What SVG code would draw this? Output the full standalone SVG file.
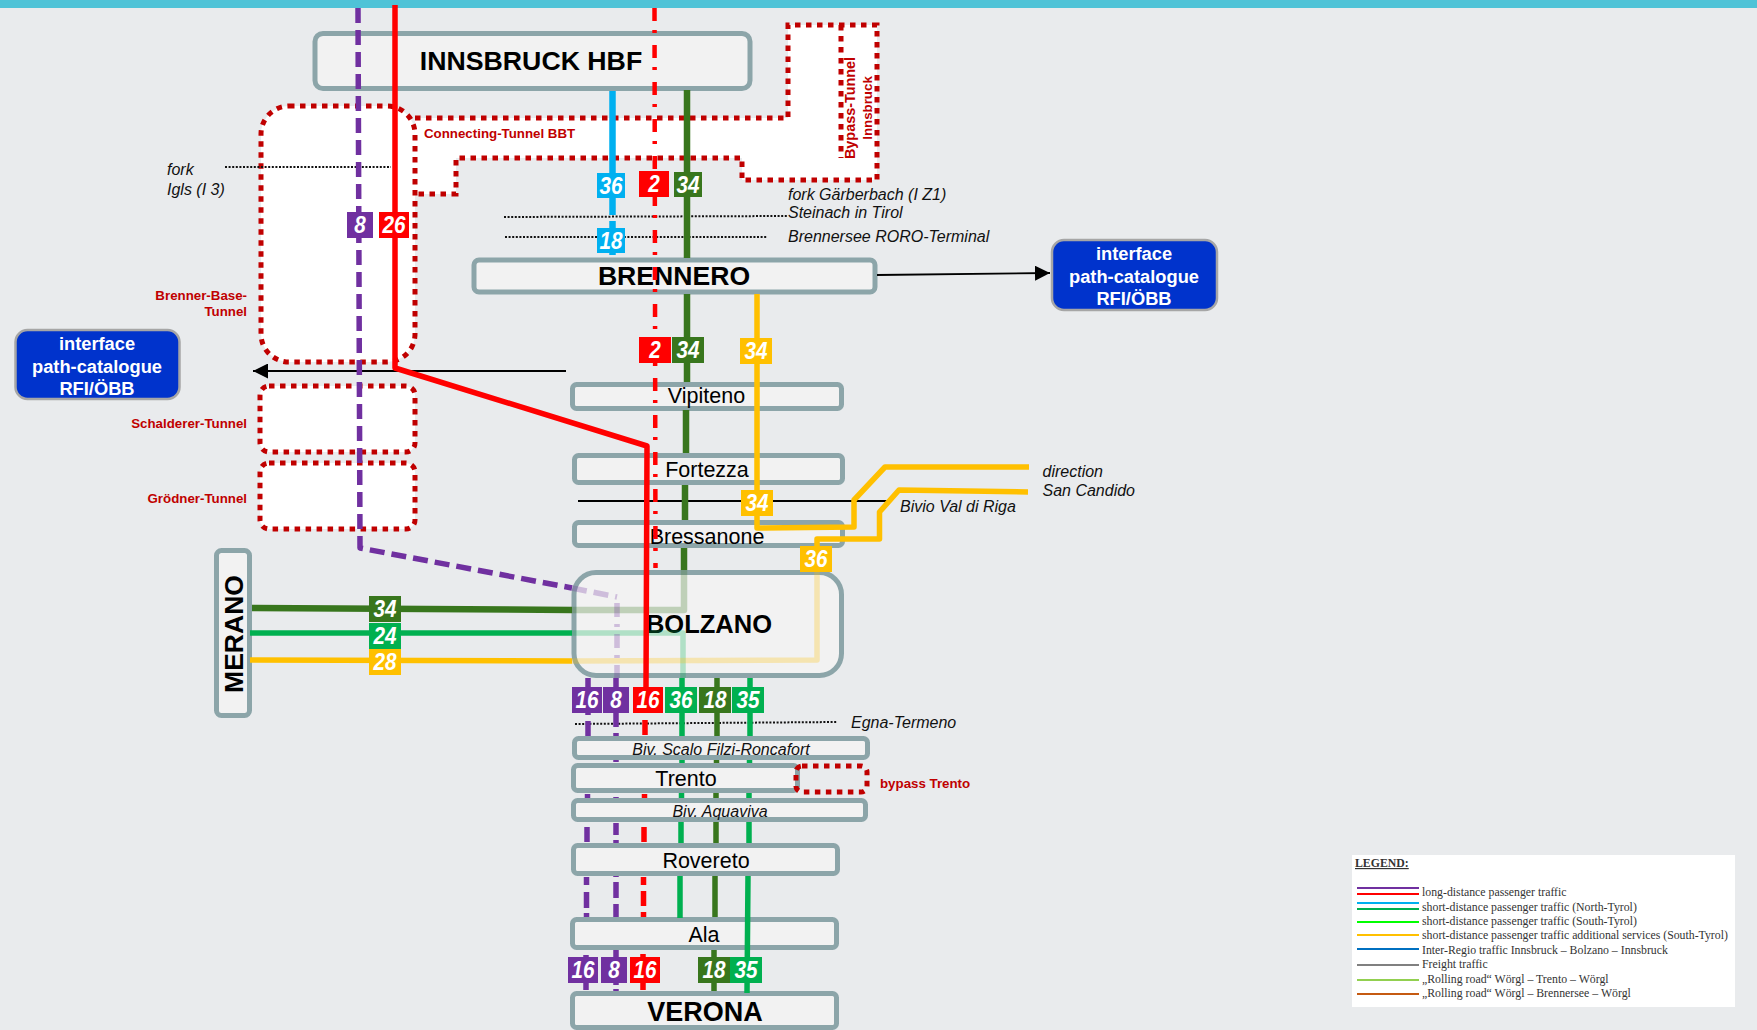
<svg xmlns="http://www.w3.org/2000/svg" width="1757" height="1030" viewBox="0 0 1757 1030">
<style>
text{font-family:"Liberation Sans",Arial,sans-serif}
.st{fill:#f2f2f2;stroke:#8ca5a9;stroke-width:5}
.big{font-weight:700;text-anchor:middle;fill:#000}
.mid{font-size:21.5px;text-anchor:middle;fill:#000}
.it{font-style:italic;font-size:16px;fill:#111}
.itm{font-style:italic;font-size:16px;fill:#111;text-anchor:middle}
.tun{fill:#fff;stroke:#c00000;stroke-width:5;stroke-dasharray:5.5 5.5}
.tl{font-weight:700;font-size:13.3px;fill:#c00000}
.tr{font-weight:700;font-size:13.3px;fill:#c00000;text-anchor:end}
.dot{fill:none;stroke:#111;stroke-width:2;stroke-dasharray:2 1.6}
.blk{fill:none;stroke:#000;stroke-width:1.8}
.l{fill:none;stroke-linejoin:round}
.pur{stroke:#7030a0;stroke-width:5.5}
.red{stroke:#f00;stroke-width:5.5}
.blu{stroke:#00b0f0;stroke-width:6.5}
.dkg{stroke:#38761d;stroke-width:6.5}
.grn{stroke:#00b050;stroke-width:5.5}
.yel{stroke:#ffc000;stroke-width:5.5}
.pale{stroke-opacity:.27}
.d1{stroke-dasharray:15 7}
.d2{stroke-dasharray:14 7 3 7}
.d3{stroke-dasharray:13 9 3 12;stroke-width:4.5}
.if{fill:#0033cc;stroke:#a6a6a6;stroke-width:2.5}
.ift{font-weight:700;font-size:18.3px;fill:#fff;text-anchor:middle}
.bt{font-weight:700;font-style:italic;font-size:23px;fill:#fff;text-anchor:middle}
.b-p{fill:#7030a0}.b-r{fill:#f00}.b-b{fill:#00b0f0}.b-d{fill:#38761d}.b-g{fill:#00b050}.b-y{fill:#ffc000}
.lg{font-family:"Liberation Serif",serif;font-size:11.8px;fill:#333}
.ll{fill:none;stroke-width:2.2}
</style>
<defs>
<marker id="ah" viewBox="0 0 10 10" refX="10" refY="5" markerUnits="userSpaceOnUse" markerWidth="15" markerHeight="15" orient="auto"><path d="M0 0L10 5L0 10z" fill="#000"/></marker>
</defs>
<rect width="1757" height="1030" fill="#e9ebed"/>
<rect width="1757" height="8" fill="#4fc3d7"/>

<g id="tunnels">
<g id="tunnel-connecting">
<path d="M415 118H788V25H877V180H742V158H456V194H415z" fill="#fff"/>
<path class="tun" style="fill:none" d="M415 118H788V25H877V180H742V158H456V194H415M841 25V158"/>
<text class="tl" x="424" y="138">Connecting-Tunnel BBT</text>
<text class="tl" style="font-size:14.4px" text-anchor="middle" transform="translate(855 108) rotate(-90)">Bypass-Tunnel</text>
<text class="tl" text-anchor="middle" transform="translate(872 108) rotate(-90)">Innsbruck</text>
</g>
<g id="tunnel-brenner-base"><rect class="tun" x="261" y="106" width="154" height="256" rx="28"/><text class="tr" x="247" y="300">Brenner-Base-</text><text class="tr" x="247" y="316">Tunnel</text></g>
<g id="tunnel-schalderer"><rect class="tun" x="260" y="386" width="155" height="66" rx="9"/><text class="tr" x="247" y="428">Schalderer-Tunnel</text></g>
<g id="tunnel-groedner"><rect class="tun" x="260" y="463" width="155" height="66" rx="9"/><text class="tr" x="247" y="503">Grödner-Tunnel</text></g>
</g>

<g id="innsbruck"><rect class="st" x="315" y="33.500" width="435" height="55" rx="8"/><text class="big" font-size="26.700" x="531" y="70">INNSBRUCK HBF</text></g>
<g id="brennero"><rect class="st" x="474" y="260" width="401" height="32" rx="5"/><text class="big" font-size="26.600" x="674" y="285">BRENNERO</text></g>
<g id="vipiteno"><rect class="st" x="572.500" y="384.500" width="269" height="24" rx="4"/><text class="mid" x="706.500" y="403">Vipiteno</text></g>
<g id="fortezza"><rect class="st" x="574.500" y="455.500" width="268" height="27" rx="4"/><text class="mid" x="707" y="477">Fortezza</text></g>
<g id="bressanone"><rect class="st" x="574.500" y="522.500" width="268" height="23" rx="4"/><text class="mid" x="707" y="544">Bressanone</text></g>
<g id="bolzano"><rect class="st" x="574" y="572.500" width="267.500" height="103" rx="22"/><text class="big" font-size="25.500" x="709" y="633">BOLZANO</text></g>
<g id="merano"><rect class="st" x="216.500" y="550.500" width="33" height="165" rx="5"/><text class="big" font-size="26.500" transform="translate(242.500 634) rotate(-90)">MERANO</text></g>
<g id="biv-scalo"><rect class="st" x="574.500" y="738.500" width="293" height="19" rx="4"/><text class="itm" x="721" y="755">Biv. Scalo Filzi-Roncafort</text></g>
<g id="trento"><rect class="st" x="573.500" y="765.500" width="224" height="25" rx="4"/><text class="mid" x="686" y="786">Trento</text></g>
<g id="tunnel-bypass-trento"><rect class="tun" style="fill:none" x="796" y="766" width="71" height="26" rx="6"/><text class="tl" x="880" y="788">bypass Trento</text></g>
<g id="biv-aquaviva"><rect class="st" x="573.500" y="800.500" width="292" height="19" rx="4"/><text class="itm" x="720" y="817">Biv. Aquaviva</text></g>
<g id="rovereto"><rect class="st" x="573.500" y="845.500" width="264" height="28" rx="4"/><text class="mid" x="706" y="868">Rovereto</text></g>
<g id="ala"><rect class="st" x="572.500" y="919.500" width="264" height="28" rx="4"/><text class="mid" x="704" y="942">Ala</text></g>
<g id="verona"><rect class="st" x="572.500" y="993.500" width="264" height="34" rx="4"/><text class="big" font-size="27" x="705" y="1021">VERONA</text></g>
<g id="interface-west"><rect class="if" x="15.500" y="330" width="164" height="69" rx="12"/><text class="ift" x="97" y="350">interface</text><text class="ift" x="97" y="373">path-catalogue</text><text class="ift" x="97" y="395">RFI/ÖBB</text></g>
<g id="interface-east"><rect class="if" x="1052" y="240" width="165" height="70" rx="12"/><text class="ift" x="1134" y="260">interface</text><text class="ift" x="1134" y="283">path-catalogue</text><text class="ift" x="1134" y="305">RFI/ÖBB</text></g>

<g id="connectors">
<path class="dot" d="M225 167H391"/>
<path class="dot" d="M504 217L788 216"/>
<path class="dot" d="M505 237H767"/>
<path class="dot" d="M575 724L837 722"/>
<path class="blk" d="M578 501H887"/>
<path class="blk" marker-end="url(#ah)" d="M566 371H253"/>
<path class="blk" marker-end="url(#ah)" d="M877 275L1050 273"/>

<path class="l blu" d="M612.500 91V215M612.500 221V255"/>
<path class="l dkg" d="M687 90V258M687 294V382M686 410V453M685 485V520M684 548V570"/>
<path class="l dkg" d="M252 608L572 610"/>
<path class="l dkg pale" d="M684 570V610H572"/>
<path class="l grn" d="M250 633H572"/>
<path class="l grn pale" d="M572 633H683V678"/>
<path class="l yel" d="M250 660L572 661"/>
<path class="l yel pale" d="M572 661L817 660V572"/>
<path class="l yel" d="M757 294V528L854 527V500L885 467H1029"/>
<path class="l yel" d="M817 550V539H879.500V512L899 490L1028 492"/>

<path class="l pur d1" d="M358 8L360 548L572 588"/>
<path class="l pur d1 pale" d="M572 588L617 597"/>
<path class="l pur d2 pale" d="M617 603V678"/>
<path class="l red d3" style="stroke:#f00" d="M654.500 8L655.500 568"/>
<path class="l red" d="M395 5V368L647 446L646 687"/>

<path class="l pur" d="M588 678V715M588 721V736M587.500 794V798M587 827V842M586.500 877V885M586.500 892V908M586.500 913V917M586 955V957M586 983V990"/>
<path class="l pur" d="M616 678V727M616 733V736M616 760V762M616 797V798M616 823V835M616 840V843M616 876V877M616 882V898M616 904V917M616 950V957M616 983V985M616 989V991"/>
<path class="l red" d="M645 720V735M644.500 794V798M644 827V842M643.500 877V885M643.500 891V906M643.500 912V917M643 954V957M643 983V990"/>
<path class="l grn" d="M682 678V736M682 760V763M681.500 793V798M681 822V843M680 876V918"/>
<path class="l dkg" style="stroke-width:5.500" d="M717 678V736M716.500 760V763M716 793V798M716 822V843M715 876V917M714 950V991"/>
<path class="l grn" d="M750 678V736M749.500 760V763M749 793V798M749 822V843M748 876L747 993"/>
</g>

<g id="line-labels">
<g><rect class="b-b" x="597" y="173" width="28" height="25"/><text class="bt" x="611" y="194" textLength="23" lengthAdjust="spacingAndGlyphs">36</text></g>
<g><rect class="b-r" x="639" y="171" width="30" height="26"/><text class="bt" x="654" y="192" textLength="11.500" lengthAdjust="spacingAndGlyphs">2</text></g>
<g><rect class="b-d" x="674" y="172" width="28" height="25"/><text class="bt" x="688" y="193" textLength="23" lengthAdjust="spacingAndGlyphs">34</text></g>
<g><rect class="b-b" x="597" y="228" width="28" height="25"/><text class="bt" x="611" y="249" textLength="23" lengthAdjust="spacingAndGlyphs">18</text></g>
<g><rect class="b-p" x="347" y="212" width="26" height="26"/><text class="bt" x="360" y="233" textLength="11.500" lengthAdjust="spacingAndGlyphs">8</text></g>
<g><rect class="b-r" x="379" y="212" width="30" height="26"/><text class="bt" x="394" y="233" textLength="23" lengthAdjust="spacingAndGlyphs">26</text></g>
<g><rect class="b-r" x="639" y="337" width="32" height="26"/><text class="bt" x="655" y="358" textLength="11.500" lengthAdjust="spacingAndGlyphs">2</text></g>
<g><rect class="b-d" x="672" y="337" width="32" height="26"/><text class="bt" x="688" y="358" textLength="23" lengthAdjust="spacingAndGlyphs">34</text></g>
<g><rect class="b-y" x="740" y="338" width="32" height="26"/><text class="bt" x="756" y="359" textLength="23" lengthAdjust="spacingAndGlyphs">34</text></g>
<g><rect class="b-y" x="741" y="490" width="32" height="26"/><text class="bt" x="757" y="511" textLength="23" lengthAdjust="spacingAndGlyphs">34</text></g>
<g><rect class="b-y" x="800" y="546" width="32" height="26"/><text class="bt" x="816" y="567" textLength="23" lengthAdjust="spacingAndGlyphs">36</text></g>
<g><rect class="b-d" x="369" y="596" width="32" height="26"/><text class="bt" x="385" y="617" textLength="23" lengthAdjust="spacingAndGlyphs">34</text></g>
<g><rect class="b-g" x="369" y="623" width="32" height="26"/><text class="bt" x="385" y="644" textLength="23" lengthAdjust="spacingAndGlyphs">24</text></g>
<g><rect class="b-y" x="369" y="649" width="32" height="26"/><text class="bt" x="385" y="670" textLength="23" lengthAdjust="spacingAndGlyphs">28</text></g>
<g><rect class="b-p" x="572" y="687" width="30" height="26"/><text class="bt" x="587" y="708" textLength="23" lengthAdjust="spacingAndGlyphs">16</text></g>
<g><rect class="b-p" x="603" y="687" width="26" height="26"/><text class="bt" x="616" y="708" textLength="11.500" lengthAdjust="spacingAndGlyphs">8</text></g>
<g><rect class="b-r" x="633" y="687" width="30" height="26"/><text class="bt" x="648" y="708" textLength="23" lengthAdjust="spacingAndGlyphs">16</text></g>
<g><rect class="b-g" x="665" y="687" width="32" height="26"/><text class="bt" x="681" y="708" textLength="23" lengthAdjust="spacingAndGlyphs">36</text></g>
<g><rect class="b-d" x="699" y="687" width="32" height="26"/><text class="bt" x="715" y="708" textLength="23" lengthAdjust="spacingAndGlyphs">18</text></g>
<g><rect class="b-g" x="732" y="687" width="32" height="26"/><text class="bt" x="748" y="708" textLength="23" lengthAdjust="spacingAndGlyphs">35</text></g>
<g><rect class="b-p" x="568" y="957" width="30" height="26"/><text class="bt" x="583" y="978" textLength="23" lengthAdjust="spacingAndGlyphs">16</text></g>
<g><rect class="b-p" x="601" y="957" width="26" height="26"/><text class="bt" x="614" y="978" textLength="11.500" lengthAdjust="spacingAndGlyphs">8</text></g>
<g><rect class="b-r" x="630" y="957" width="30" height="26"/><text class="bt" x="645" y="978" textLength="23" lengthAdjust="spacingAndGlyphs">16</text></g>
<g><rect class="b-d" x="698" y="957" width="32" height="26"/><text class="bt" x="714" y="978" textLength="23" lengthAdjust="spacingAndGlyphs">18</text></g>
<g><rect class="b-g" x="730" y="957" width="32" height="26"/><text class="bt" x="746" y="978" textLength="23" lengthAdjust="spacingAndGlyphs">35</text></g>
</g>

<g id="place-labels">
<text class="it" x="167" y="175">fork</text>
<text class="it" x="167" y="195">Igls (I 3)</text>
<text class="it" x="788" y="200">fork Gärberbach (I Z1)</text>
<text class="it" x="788" y="218">Steinach in Tirol</text>
<text class="it" x="788" y="242">Brennersee RORO-Terminal</text>
<text class="it" x="1042.500" y="477">direction</text>
<text class="it" x="1042.500" y="496">San Candido</text>
<text class="it" x="900" y="512">Bivio Val di Riga</text>
<text class="it" x="851" y="728">Egna-Termeno</text>
</g>

<g id="legend">
<rect x="1352" y="855" width="383" height="152" fill="#fff"/>
<text class="lg" x="1355" y="867" font-weight="700" text-decoration="underline">LEGEND:</text>
<path class="ll" stroke="#7030a0" d="M1357 888H1419"/>
<path class="ll" stroke="#f00" d="M1357 894H1419"/>
<path class="ll" stroke="#00b0f0" d="M1357 903H1419"/>
<path class="ll" stroke="#00b050" d="M1357 909H1419"/>
<path class="ll" stroke="#00ff00" d="M1357 922H1419"/>
<path class="ll" stroke="#ffc000" d="M1357 935H1419"/>
<path class="ll" stroke="#0070c0" d="M1357 949H1419"/>
<path class="ll" stroke="#808080" d="M1357 965H1419"/>
<path class="ll" stroke="#92d050" d="M1357 980H1419"/>
<path class="ll" stroke="#c55a11" d="M1357 994H1419"/>
<text class="lg" x="1422" y="896">long-distance passenger traffic</text>
<text class="lg" x="1422" y="911">short-distance passenger traffic (North-Tyrol)</text>
<text class="lg" x="1422" y="925">short-distance passenger traffic (South-Tyrol)</text>
<text class="lg" x="1422" y="939">short-distance passenger traffic additional services (South-Tyrol)</text>
<text class="lg" x="1422" y="954">Inter-Regio traffic Innsbruck – Bolzano – Innsbruck</text>
<text class="lg" x="1422" y="968">Freight traffic</text>
<text class="lg" x="1422" y="983">„Rolling road“ Wörgl – Trento – Wörgl</text>
<text class="lg" x="1422" y="997">„Rolling road“ Wörgl – Brennersee – Wörgl</text>
</g>
</svg>
